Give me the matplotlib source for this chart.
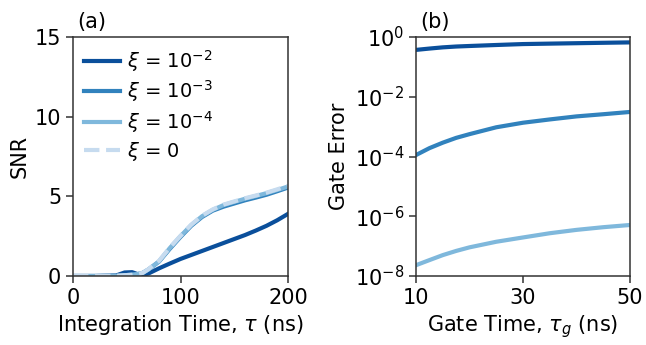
import numpy as np
import matplotlib
matplotlib.use("Agg")
import matplotlib.pyplot as plt

# Panel (a) data
tau = [0, 20, 40, 48, 55, 60, 65, 70, 80, 90, 100, 110, 120, 130, 140, 150, 160, 170, 180, 190, 200]
snr_m2 = [0, 0, 0.03, 0.22, 0.24, 0.12, 0.08, 0.15, 0.48, 0.78, 1.07, 1.32, 1.57, 1.82, 2.07, 2.32, 2.57, 2.85, 3.15, 3.5, 3.9]
snr_m3 = [0, 0, 0.01, 0.05, 0.08, 0.12, 0.2, 0.4, 0.9, 1.7, 2.45, 3.15, 3.7, 4.1, 4.35, 4.55, 4.75, 4.92, 5.1, 5.32, 5.55]
snr_m4 = [0, 0, 0.01, 0.05, 0.08, 0.12, 0.2, 0.4, 0.92, 1.75, 2.5, 3.2, 3.75, 4.15, 4.45, 4.65, 4.85, 5.02, 5.2, 5.4, 5.62]
snr_0 = [0, 0, 0.01, 0.05, 0.08, 0.12, 0.2, 0.42, 0.95, 1.78, 2.52, 3.22, 3.78, 4.18, 4.48, 4.68, 4.88, 5.05, 5.23, 5.44, 5.66]

# Panel (b) data
tg = [10, 12.5, 15, 17.5, 20, 25, 30, 35, 40, 45, 50]
err_m2 = [0.37, 0.41, 0.45, 0.48, 0.50, 0.54, 0.58, 0.60, 0.62, 0.64, 0.66]
err_m3 = [1.12e-4, 1.9e-4, 2.9e-4, 4.2e-4, 5.6e-4, 9.5e-4, 1.35e-3, 1.74e-3, 2.2e-3, 2.6e-3, 3.1e-3]
err_m4 = [2.3e-8, 3.4e-8, 5.0e-8, 6.9e-8, 9.1e-8, 1.4e-7, 1.95e-7, 2.7e-7, 3.5e-7, 4.3e-7, 5.1e-7]

labels = [r"$\xi$ = $10^{-2}$", r"$\xi$ = $10^{-3}$", r"$\xi$ = $10^{-4}$", r"$\xi$ = 0"]
colors = ["#0a4f9b", "#3182bd", "#7fb8dc", "#c6dbef"]

plt.rcParams['font.size'] = 15
plt.rcParams['mathtext.fontset'] = 'dejavusans'
plt.rcParams['axes.linewidth'] = 1.1
plt.rcParams['xtick.major.width'] = 1.1
plt.rcParams['ytick.major.width'] = 1.1
plt.rcParams['xtick.major.size'] = 5
plt.rcParams['ytick.major.size'] = 5

fig = plt.figure(figsize=(6.46, 3.45), dpi=100)
ax1 = fig.add_axes([73/646, 1 - 276/345, 215/646, 239/345])
ax2 = fig.add_axes([416/646, 1 - 276/345, 214/646, 239/345])

lw = 3
ax1.plot(tau, snr_m2, color=colors[0], lw=lw, label=labels[0])
ax1.plot(tau, snr_m3, color=colors[1], lw=lw, label=labels[1])
ax1.plot(tau, snr_m4, color=colors[2], lw=lw, label=labels[2])
ax1.plot(tau, snr_0, color=colors[3], lw=lw, ls="--", label=labels[3])
ax1.set_xlim(0, 200)
ax1.set_ylim(0, 15)
ax1.set_xticks([0, 100, 200])
ax1.set_yticks([0, 5, 10, 15])
ax1.set_xlabel(r"Integration Time, $\tau$ (ns)")
ax1.set_ylabel("SNR")
ax1.legend(loc="upper left", frameon=False, fontsize=14, handlelength=1.85,
           handletextpad=0.4, borderaxespad=0.2, labelspacing=0.25, borderpad=0.35)
ax1.text(0.02, 1.02, "(a)", transform=ax1.transAxes, ha="left", va="bottom")

ax2.plot(tg, err_m2, color=colors[0], lw=lw)
ax2.plot(tg, err_m3, color=colors[1], lw=lw)
ax2.plot(tg, err_m4, color=colors[2], lw=lw)
ax2.set_yscale("log")
ax2.set_xlim(10, 50)
ax2.set_ylim(1e-8, 1)
ax2.set_xticks([10, 30, 50])
ax2.set_yticks([1e-8, 1e-6, 1e-4, 1e-2, 1])
ax2.minorticks_off()
ax2.set_xlabel(r"Gate Time, $\tau_g$ (ns)")
ax2.set_ylabel("Gate Error")
ax2.text(0.02, 1.02, "(b)", transform=ax2.transAxes, ha="left", va="bottom")

for ax in (ax1, ax2):
    for s in ax.spines.values():
        s.set_color("#333333")
    ax.tick_params(colors="#333333", labelcolor="black")

fig.savefig("out.png", dpi=100)
